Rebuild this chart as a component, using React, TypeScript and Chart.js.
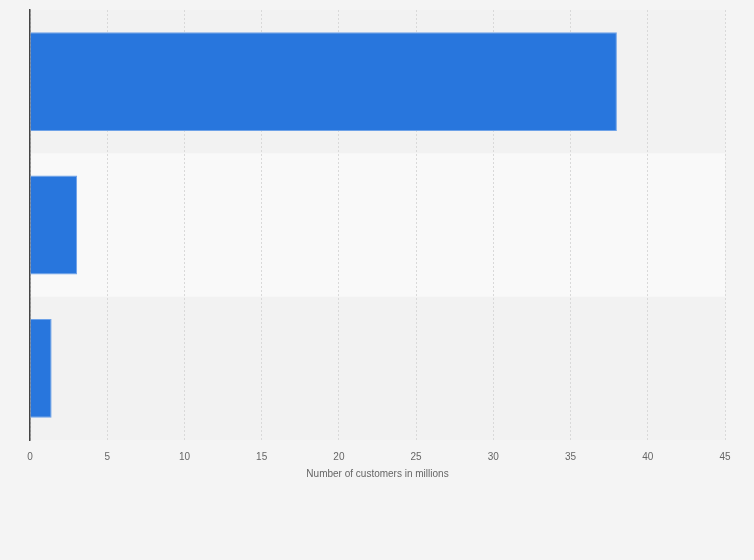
import React, { useEffect, useRef } from "react";
import { Chart, registerables } from "chart.js";

Chart.register(...registerables);

const categories = ["Category 1", "Category 2", "Category 3"];
const customers = [38, 3.05, 1.4];
const xTicks = [0, 5, 10, 15, 20, 25, 30, 35, 40, 45];
const xTitle = "Number of customers in millions";

const bandPlugin = {
  id: "bands",
  beforeDraw(chart: any) {
    const { ctx, chartArea, scales } = chart;
    ctx.save();
    ctx.fillStyle = "#f4f4f4";
    ctx.fillRect(0, 0, chart.width, chart.height);
    ctx.fillStyle = "#f2f2f2";
    ctx.fillRect(chartArea.left, chartArea.top, chartArea.right - chartArea.left, chartArea.bottom - chartArea.top);
    const y = scales.y;
    const n = categories.length;
    const step = (chartArea.bottom - chartArea.top) / n;
    for (let i = 0; i < n; i++) {
      if (i % 2 === 1) {
        const c = y.getPixelForValue(i);
        ctx.fillStyle = "#f9f9f9";
        ctx.fillRect(chartArea.left, c - step / 2, chartArea.right - chartArea.left, step);
      }
    }
    ctx.restore();
  },
};

export default function App() {
  const ref = useRef<HTMLCanvasElement>(null);
  useEffect(() => {
    document.body.style.margin = "0";
    const chart = new Chart(ref.current!, {
      type: "bar",
      data: {
        labels: categories,
        datasets: [
          {
            data: customers,
            backgroundColor: "#2876dd",
            borderColor: "#6ea2e8",
            borderWidth: 1,
            categoryPercentage: 1,
            barPercentage: 0.69,
          },
        ],
      },
      plugins: [bandPlugin],
      options: {
        indexAxis: "y",
        animation: false,
        responsive: false,
        maintainAspectRatio: false,
        layout: { padding: { left: 22, right: 29, top: 10, bottom: 80 } },
        plugins: { legend: { display: false }, tooltip: { enabled: false } },
        scales: {
          x: {
            min: 0,
            max: 45,
            afterBuildTicks: (s: any) => {
              s.ticks = xTicks.map((v) => ({ value: v }));
            },
            grid: {
              color: "#d9d9d9",
              drawTicks: false,
            },
            border: { display: false, dash: [2, 2] },
            ticks: {
              padding: 11,
              color: "#666",
              font: { family: "'Liberation Sans', Arial, sans-serif", size: 10 },
            },
            title: {
              display: true,
              text: xTitle,
              color: "#666",
              padding: { top: -6, bottom: 0 },
              font: { family: "'Liberation Sans', Arial, sans-serif", size: 10 },
            },
          },
          y: {
            ticks: { display: false },
            grid: { display: false },
            border: { display: true, color: "#444", width: 1.5 },
          },
        },
      },
    });
    return () => chart.destroy();
  }, []);
  return (
    <div style={{ width: 754, height: 560, background: "#f4f4f4" }}>
      <canvas ref={ref} width={754} height={560} style={{ display: "block" }} />
    </div>
  );
}
